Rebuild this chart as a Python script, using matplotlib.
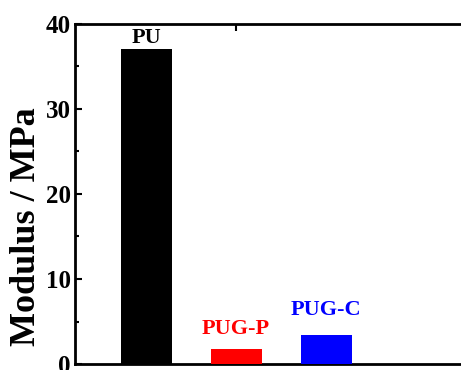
import matplotlib
matplotlib.use("Agg")
import matplotlib.pyplot as plt
from matplotlib.ticker import MultipleLocator, FixedLocator

samples = ["PU", "PUG-P", "PUG-C"]
modulus = [37.1, 1.75, 3.4]
colors = ["black", "red", "blue"]
label_gap = [0.1, 1.2, 1.75]

plt.rcParams['font.family'] = ['Liberation Serif', 'DejaVu Serif']
plt.rcParams['font.weight'] = 'bold'

fig = plt.figure(figsize=(4.61, 3.70), dpi=100)
ax = fig.add_axes([0.163, 0.0162, 0.887, 0.919])

x = [1, 2, 3]
ax.bar(x, modulus, width=0.567, color=colors, zorder=3)

for xi, val, name, c, g in zip(x, modulus, samples, colors, label_gap):
    ax.text(xi, val + g, name, color=c, ha='center', va='bottom',
            fontsize=16, fontweight='bold')

ax.set_xlim(0.211, 4.755)
ax.set_ylim(0, 40)
ax.xaxis.set_major_locator(FixedLocator([2]))
ax.set_xticklabels([])
ax.yaxis.set_major_locator(MultipleLocator(10))
ax.yaxis.set_minor_locator(MultipleLocator(5))
ax.tick_params(axis='both', which='both', direction='in', top=True, right=True,
               width=1.5, labelsize=18, pad=3)
ax.tick_params(axis='both', which='major', length=5)
ax.tick_params(axis='y', which='minor', length=3)
for lab in ax.get_yticklabels():
    lab.set_fontweight('bold')
for s in ax.spines.values():
    s.set_linewidth(2)

ax.set_ylabel("Modulus / MPa", fontsize=26, fontweight='bold', va='center')
ax.yaxis.set_label_coords(-0.12, 0.405)

fig.savefig("out.png", dpi=100)
